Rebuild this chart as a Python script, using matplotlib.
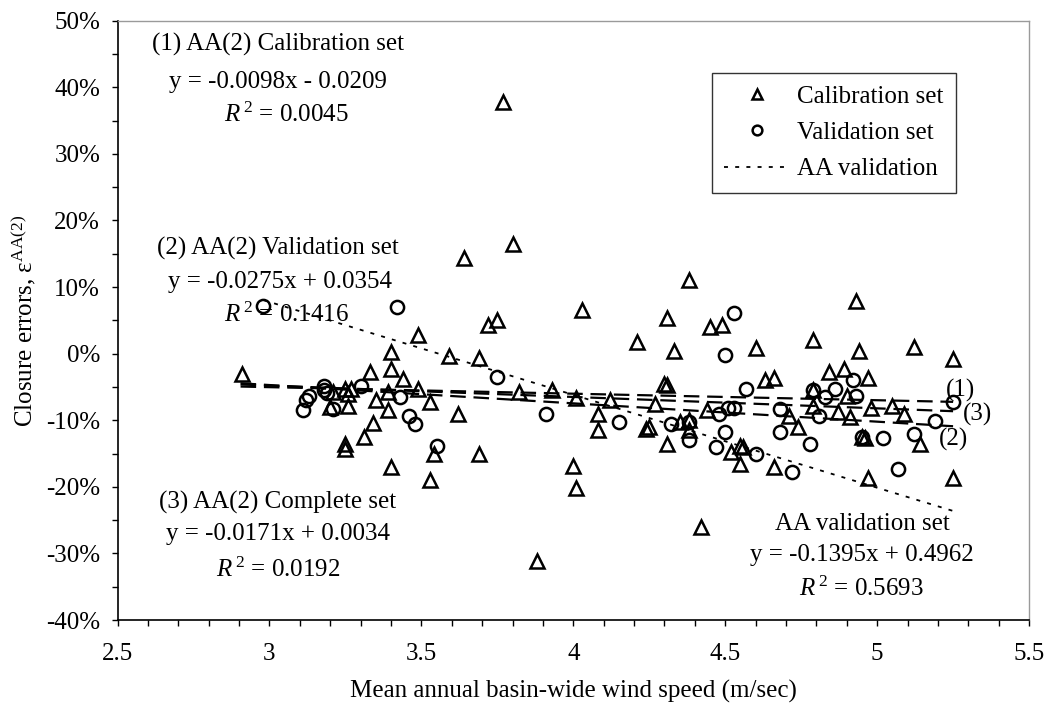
import numpy as np
import matplotlib
matplotlib.use("Agg")
import matplotlib.pyplot as plt
from matplotlib.ticker import MultipleLocator, FuncFormatter

plt.rcParams["font.family"] = ["Liberation Serif", "DejaVu Serif"]
plt.rcParams["mathtext.fontset"] = "custom"
plt.rcParams["mathtext.rm"] = "Liberation Serif"
plt.rcParams["mathtext.it"] = "Liberation Serif:italic"
plt.rcParams["axes.unicode_minus"] = False

# calibration set (triangles): wind speed (m/s), closure error (%)
cal_x = [2.91, 3.25, 3.27, 3.26, 3.21, 3.20, 3.26, 3.25, 3.25, 3.31, 3.34, 3.33,
         3.35, 3.39, 3.39, 3.40, 3.40, 3.40, 3.44, 3.49, 3.49, 3.53, 3.53, 3.54,
         3.59, 3.62, 3.64, 3.69, 3.69, 3.72, 3.75, 3.77, 3.80, 3.82, 3.88, 3.93,
         4.00, 4.01, 4.01, 4.03, 4.08, 4.08, 4.12, 4.21, 4.24, 4.25, 4.27, 4.30,
         4.31, 4.31, 4.31, 4.33, 4.35, 4.38, 4.38, 4.38, 4.42, 4.44, 4.45, 4.49,
         4.52, 4.55, 4.56, 4.55, 4.60, 4.63, 4.66, 4.66, 4.71, 4.74, 4.79, 4.79,
         4.79, 4.84, 4.87, 4.89, 4.90, 4.91, 4.93, 4.94, 4.95, 4.96, 4.97, 4.98,
         4.97, 5.05, 5.09, 5.12, 5.14, 5.25, 5.25]
cal_y = [-3.1, -5.3, -5.3, -6.0, -5.8, -8.0, -7.9, -13.5, -14.3, -12.5, -10.4, -2.8,
         -7.0, -5.8, -8.5, 0.25, -2.3, -17.0, -3.8, 2.75, -5.3, -7.3, -18.9, -15.0,
         -0.3, -9.0, 14.4, -0.7, -15.0, 4.3, 5.0, 37.8, 16.5, -5.8, -31.1, -5.5,
         -16.8, -20.1, -6.6, 6.6, -9.1, -11.4, -7.0, 1.7, -11.3, -11.0, -7.5, -4.5,
         -4.7, 5.3, -13.5, 0.4, -10.3, -10.0, -11.5, 11.1, -26.1, -8.4, 4.0, 4.3,
         -14.8, -13.8, -14.0, -16.5, 0.8, -4.0, -3.6, -17.0, -9.4, -11.0, 2.0, -5.5,
         -7.8, -2.7, -8.8, -2.3, -6.3, -9.5, 7.9, 0.35, -12.5, -12.6, -3.6, -8.2,
         -18.6, -7.8, -9.0, 1.0, -13.6, -0.75, -18.6]

# validation set (circles)
val_x = [2.98, 3.11, 3.12, 3.13, 3.18, 3.18, 3.19, 3.21, 3.30, 3.42, 3.43, 3.46,
         3.48, 3.55, 3.75, 3.91, 4.15, 4.32, 4.38, 4.38, 4.47, 4.48, 4.50, 4.50,
         4.51, 4.53, 4.53, 4.57, 4.60, 4.68, 4.68, 4.72, 4.78, 4.79, 4.81, 4.83,
         4.86, 4.92, 4.93, 4.95, 5.02, 5.07, 5.12, 5.19, 5.25]
val_y = [7.2, -8.5, -7.0, -6.4, -4.9, -5.5, -5.9, -8.3, -4.8, 7.0, -6.5, -9.3,
         -10.6, -13.8, -3.5, -9.1, -10.3, -10.5, -10.3, -13.0, -14.0, -9.0, -0.15, -11.8,
         -8.1, -8.1, 6.1, -5.3, -15.0, -8.3, -11.8, -17.8, -13.5, -5.4, -9.4, -6.5,
         -5.3, -3.9, -6.3, -12.5, -12.6, -17.3, -12.1, -10.1, -7.3]

# trend lines (slope, intercept as fractions) and their x-range
trend_names = ["(1)", "(2)", "(3)"]
trend_slope = [-0.0098, -0.0275, -0.0171]
trend_icpt = [-0.0209, 0.0354, 0.0034]
trend_xrange = [2.905, 5.25]
aa_slope, aa_icpt = -0.1395, 0.4962
aa_xrange = [2.98, 5.26]

fig = plt.figure(figsize=(10.55, 7.07), dpi=100)
ax = fig.add_axes([0.1114, 0.123, 0.8640, 0.8477])

fs = 18

ax.plot(cal_x, cal_y, ls="none", marker="^", ms=10, mfc="none", mec="black",
        mew=1.8, label="Calibration set", zorder=3)
ax.plot(val_x, val_y, ls="none", marker="o", ms=9.5, mfc="none", mec="black",
        mew=1.8, label="Validation set", zorder=3)

xr = np.array(trend_xrange)
for m, b in zip(trend_slope, trend_icpt):
    ax.plot(xr, (m * xr + b) * 100, color="black", lw=1.6, ls=(0, (7, 3.5)), zorder=2)

xa = np.array(aa_xrange)
ax.plot(xa, (aa_slope * xa + aa_icpt) * 100, color="black", lw=1.3,
        ls=(0, (2.2, 4)), label="AA validation", zorder=2)

# labels at the end of trend lines
for name, (lx, ly) in zip(trend_names, [(5.275, -5.5), (5.253, -12.9), (5.33, -9.1)]):
    ax.text(lx, ly, name, fontsize=fs, ha="center", va="center")

def block(x, ys, lines, xs=None):
    for i, (y, s) in enumerate(zip(ys, lines)):
        xx = x if xs is None else xs[i]
        ax.text(xx, y, s, fontsize=fs, ha="center", va="center")

block(3.028, [46.4, 40.8, 35.8],
      ["(1) AA(2) Calibration set", "y = -0.0098x - 0.0209", r"$R^{\,2}$ = 0.0045"],
      xs=[3.028, 3.028, 3.055])
block(3.028, [15.8, 10.7, 5.8],
      ["(2) AA(2) Validation set", "y = -0.0275x + 0.0354", r"$R^{\,2}$ = 0.1416"],
      xs=[3.028, 3.035, 3.055])
block(3.028, [-22.3, -27.1, -32.4],
      ["(3) AA(2) Complete set", "y = -0.0171x + 0.0034", r"$R^{\,2}$ = 0.0192"])
block(4.95, [-25.6, -30.3, -35.3],
      ["AA validation set", "y = -0.1395x + 0.4962", r"$R^{\,2}$ = 0.5693"])

ax.set_xlim(2.5, 5.5)
ax.set_ylim(-40, 50)
ax.xaxis.set_major_locator(MultipleLocator(0.5))
ax.xaxis.set_minor_locator(MultipleLocator(0.1))
ax.yaxis.set_major_locator(MultipleLocator(10))
ax.yaxis.set_minor_locator(MultipleLocator(5))
ax.xaxis.set_major_formatter(FuncFormatter(lambda v, p: f"{v:g}"))
ax.yaxis.set_major_formatter(FuncFormatter(lambda v, p: f"{v:.0f}%"))
ax.tick_params(axis="both", which="both", direction="out", length=4.5, width=1,
               labelsize=fs)
ax.tick_params(axis="x", pad=12)
ax.tick_params(axis="y", pad=8)

for side in ["left", "bottom"]:
    ax.spines[side].set_linewidth(1.2)
for side in ["top", "right"]:
    ax.spines[side].set_color("#9a9a9a")
    ax.spines[side].set_linewidth(1.0)

ax.set_xlabel("Mean annual basin-wide wind speed (m/sec)", fontsize=fs, labelpad=11)
ax.set_ylabel(r"Closure errors, ε$^{\mathrm{AA(2)}}$", fontsize=fs, labelpad=6)

leg = ax.legend(loc="upper left", bbox_to_anchor=(0.652, 0.913), fontsize=fs,
                frameon=True, fancybox=False, edgecolor="black", handlelength=2.6,
                handletextpad=0.3, labelspacing=0.55, borderpad=0.5,
                borderaxespad=0.0)
leg.get_frame().set_linewidth(1.0)
for h in leg.legend_handles[:2]:
    h.set_markersize(7)

fig.savefig("out.png", dpi=100)
